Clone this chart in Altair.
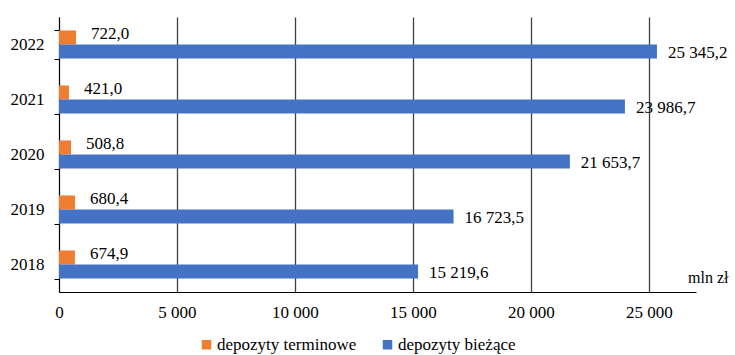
import altair as alt
import pandas as pd

# Deposits by year, mln zł
years = ["2018", "2019", "2020", "2021", "2022"]
terminowe = [674.9, 680.4, 508.8, 421.0, 722.0]
biezace = [15219.6, 16723.5, 21653.7, 23986.7, 25345.2]
series = ["depozyty terminowe", "depozyty bieżące"]
colors = ["#ED7D31", "#4472C4"]
x_ticks = [0, 5000, 10000, 15000, 20000, 25000]
unit_label = "mln zł"


def pl_format(v):
    return f"{v:,.1f}".replace(",", " ").replace(".", ",")


rows = []
for yr, t, b in zip(years, terminowe, biezace):
    rows.append({"rok": yr, "seria": series[0], "wartosc": t, "etykieta": pl_format(t), "kolejnosc": 0})
    rows.append({"rok": yr, "seria": series[1], "wartosc": b, "etykieta": pl_format(b), "kolejnosc": 1})
df = pd.DataFrame(rows)

FONT = "Liberation Serif"

y_enc = alt.Y(
    "rok:N",
    sort=alt.SortOrder("descending"),
    scale=alt.Scale(paddingInner=0.49, paddingOuter=0.245),
    axis=alt.Axis(
        title=None,
        tickBand="extent",
        tickSize=5,
        tickColor="#000000",
        domainColor="#000000",
        labelPadding=10,
        labelFontSize=17,
        labelFont=FONT,
        labelColor="#000000",
        grid=False,
    ),
)
yoff_enc = alt.YOffset("seria:N", sort=series, scale=alt.Scale(paddingInner=0, paddingOuter=0))
x_enc = alt.X(
    "wartosc:Q",
    scale=alt.Scale(domain=[0, 27000], nice=False),
    axis=alt.Axis(
        title=None,
        values=x_ticks,
        ticks=False,
        domainColor="#000000",
        grid=True,
        gridColor="#404040",
        gridWidth=1.3,
        labelPadding=12,
        labelFlush=False,
        labelFontSize=17,
        labelFont=FONT,
        labelColor="#000000",
        labelExpr="replace(format(datum.value, ','), ',', ' ')",
    ),
)

base = alt.Chart(df)

bars = base.mark_bar().encode(
    x=x_enc,
    y=y_enc,
    yOffset=yoff_enc,
    color=alt.Color(
        "seria:N",
        sort=series,
        scale=alt.Scale(domain=series, range=colors),
        legend=alt.Legend(
            title=None,
            orient="none",
            legendX=139,
            legendY=319,
            direction="horizontal",
            symbolType="square",
            symbolSize=90,
            symbolStrokeWidth=0,
            labelFont=FONT,
            labelFontSize=17,
            labelColor="#000000",
            labelOffset=2,
            columnPadding=22,
        ),
    ),
)

labels_t = base.transform_filter(alt.datum.kolejnosc == 0).mark_text(
    align="left", baseline="middle", dx=15, dy=-3, font=FONT, fontSize=17, color="#000000"
).encode(x="wartosc:Q", y=alt.Y("rok:N", sort=alt.SortOrder("descending")), yOffset=yoff_enc, text="etykieta:N")

labels_b = base.transform_filter(alt.datum.kolejnosc == 1).mark_text(
    align="left", baseline="middle", dx=11, dy=1, font=FONT, fontSize=17, color="#000000"
).encode(x="wartosc:Q", y=alt.Y("rok:N", sort=alt.SortOrder("descending")), yOffset=yoff_enc, text="etykieta:N")

unit = alt.Chart(pd.DataFrame({"t": [unit_label]})).mark_text(
    align="left", baseline="middle", font=FONT, fontSize=16, color="#000000"
).encode(x=alt.value(629), y=alt.value(261), text="t:N")

chart = (
    alt.layer(bars, labels_t, labels_b, unit)
    .properties(
        width=637,
        height=275,
        autosize=alt.AutoSizeParams(type="none"),
        padding={"left": 59, "top": 17, "right": 39, "bottom": 63},
    )
    .configure(font=FONT)
    .configure_view(stroke=None)
)

chart.save("out.html", embed_options={"renderer": "svg", "actions": False})
